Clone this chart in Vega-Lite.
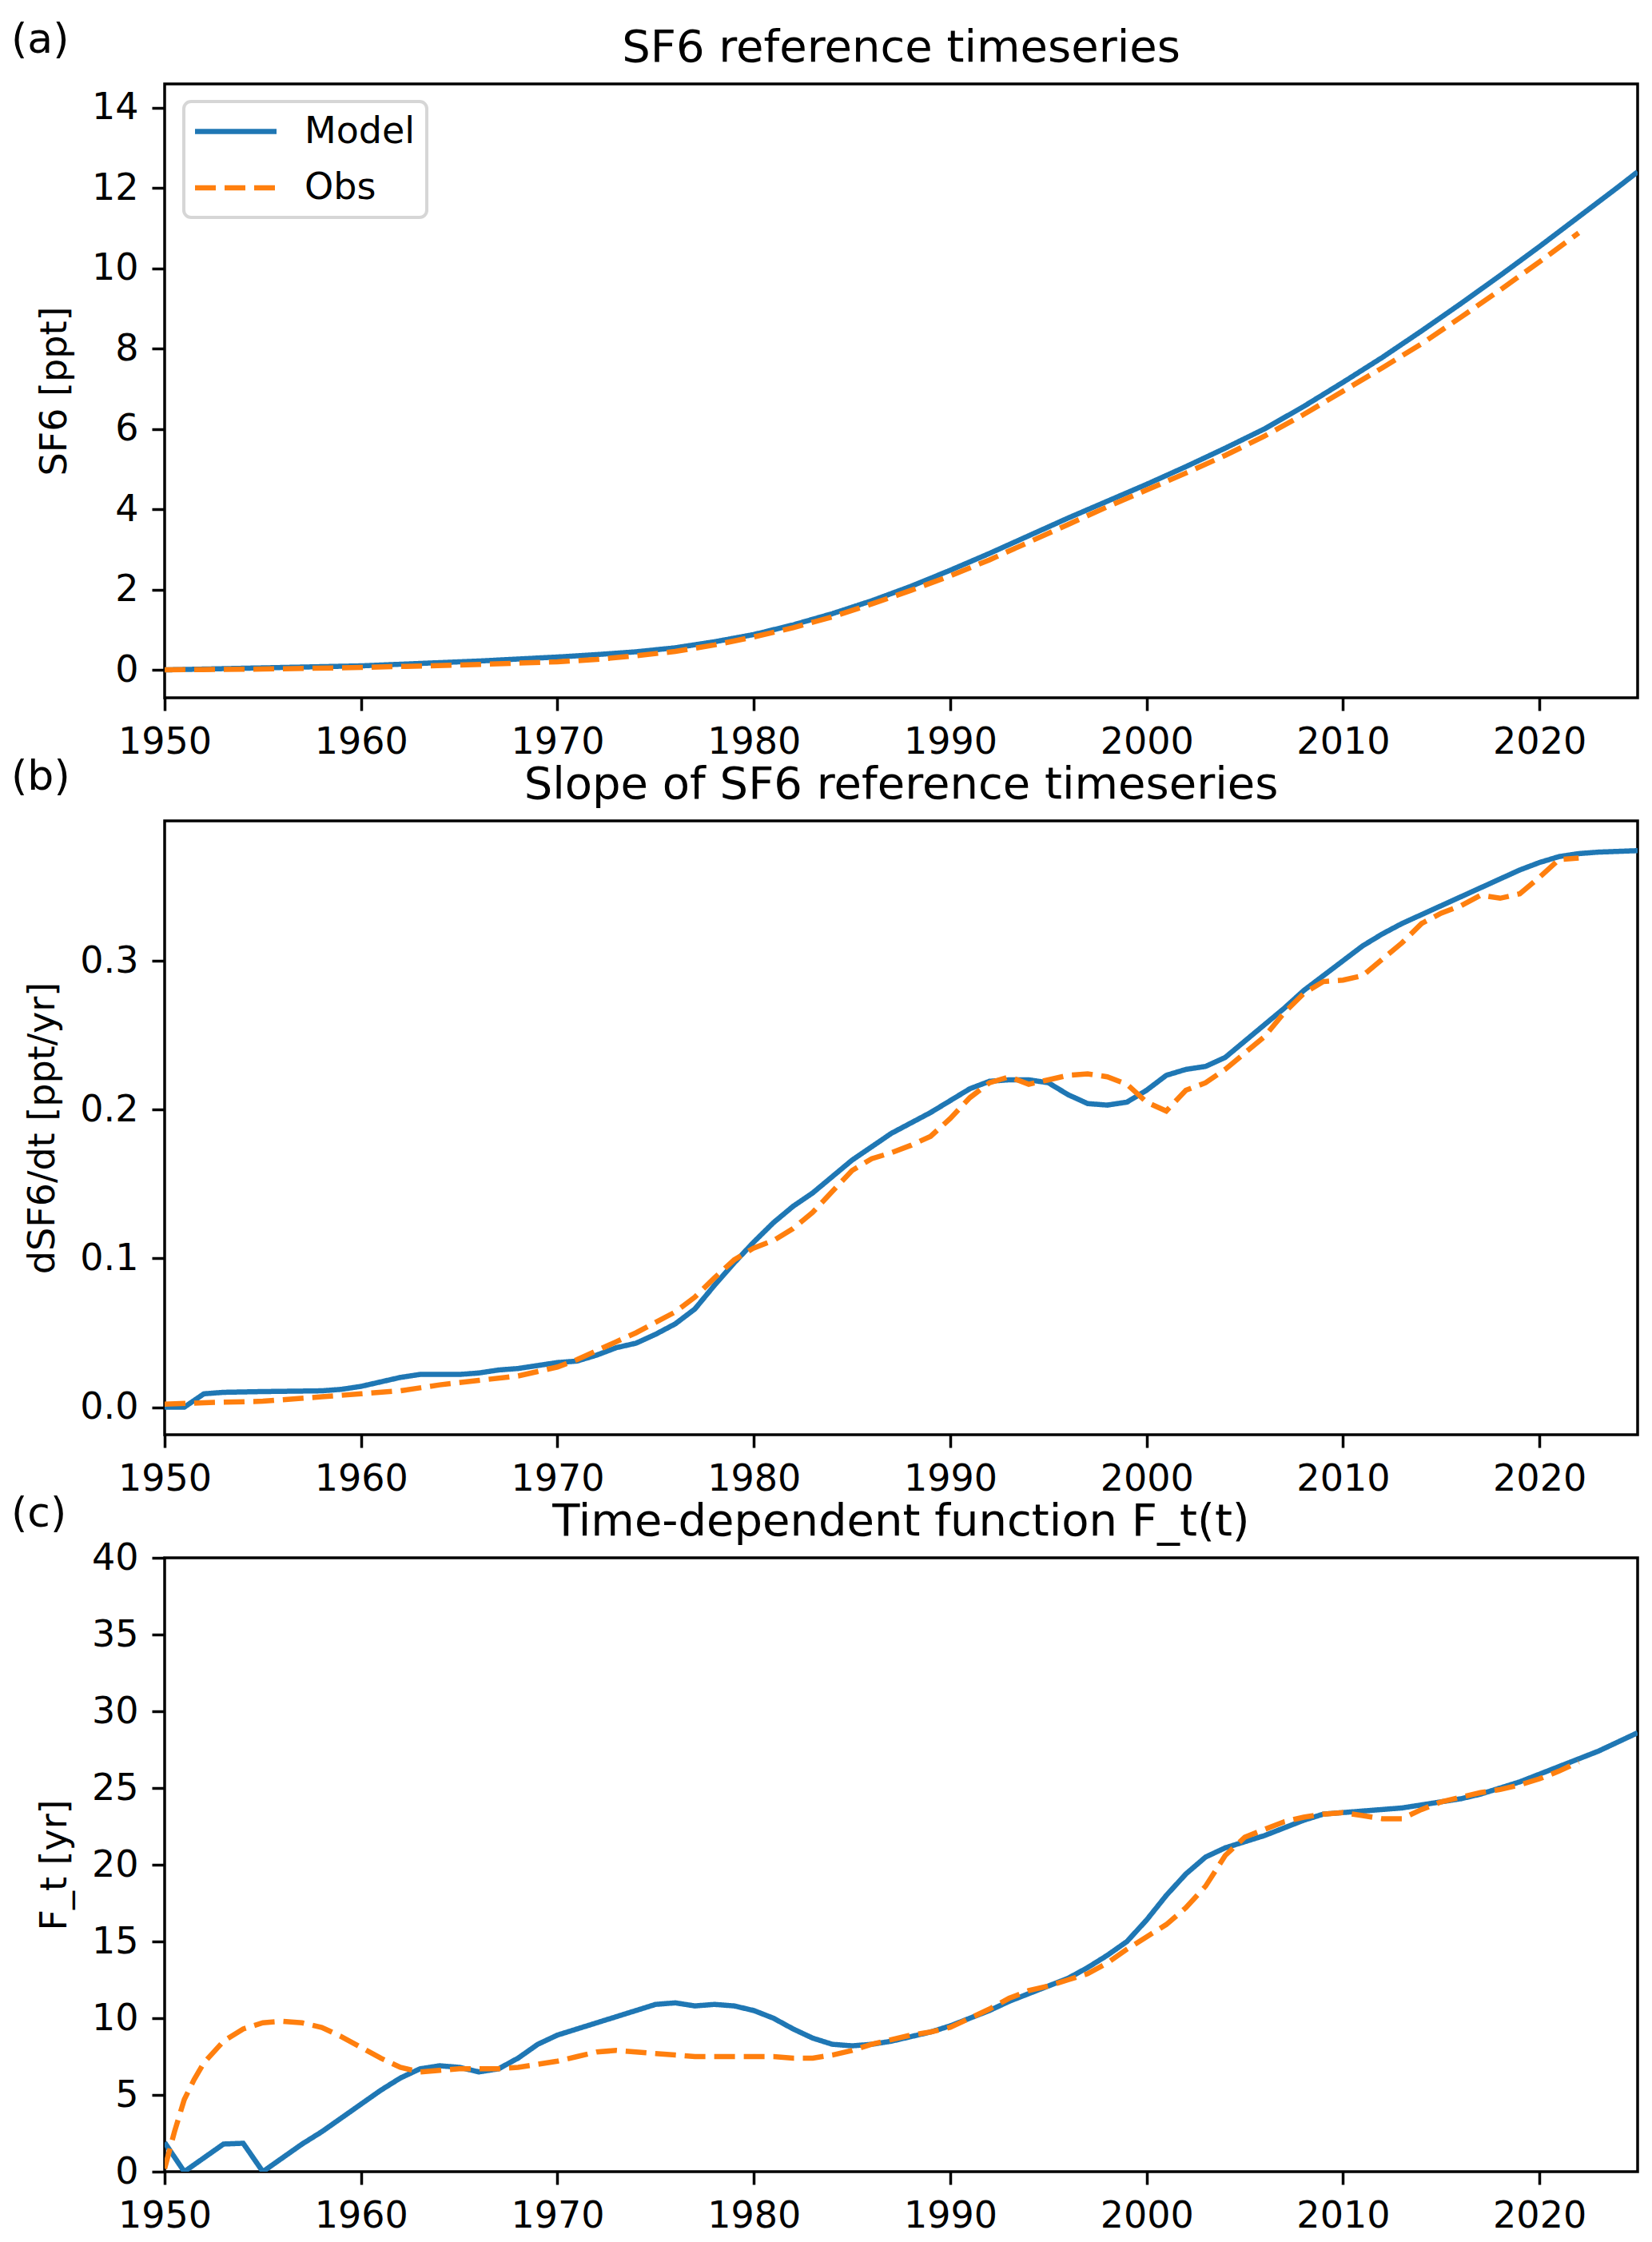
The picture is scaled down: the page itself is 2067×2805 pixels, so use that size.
{
"$schema": "https://vega.github.io/schema/vega-lite/v6.json",
"background": "white",
"padding": {"left": 12, "top": 22, "right": 5, "bottom": 5},
"config": {
 "font": "DejaVu Sans",
 "view": {"stroke": "black", "strokeWidth": 3.5},
 "axis": {"grid": false, "domain": false, "labelFont": "DejaVu Sans", "labelFontSize": 46, "labelColor": "black", "tickColor": "black", "tickSize": 16, "tickWidth": 3.5, "labelPadding": 17, "titleFont": "DejaVu Sans", "titleFontSize": 46, "titleFontWeight": "normal", "titleColor": "black", "titlePadding": 22, "labelFlush": false, "labelOverlap": false}
},
"datasets": {
 "sf6": [
  {"year":1950,"series":"Model","value":0.0},{"year":1952,"series":"Model","value":0.02},{"year":1954,"series":"Model","value":0.04},{"year":1956,"series":"Model","value":0.06},{"year":1958,"series":"Model","value":0.08},{"year":1960,"series":"Model","value":0.1},{"year":1962,"series":"Model","value":0.14},{"year":1964,"series":"Model","value":0.18},{"year":1966,"series":"Model","value":0.22},{"year":1968,"series":"Model","value":0.27},{"year":1970,"series":"Model","value":0.32},{"year":1972,"series":"Model","value":0.38},{"year":1974,"series":"Model","value":0.45},{"year":1976,"series":"Model","value":0.55},{"year":1978,"series":"Model","value":0.7},{"year":1980,"series":"Model","value":0.88},{"year":1982,"series":"Model","value":1.12},{"year":1984,"series":"Model","value":1.4},{"year":1986,"series":"Model","value":1.72},{"year":1988,"series":"Model","value":2.08},{"year":1990,"series":"Model","value":2.48},{"year":1992,"series":"Model","value":2.9},{"year":1994,"series":"Model","value":3.34},{"year":1996,"series":"Model","value":3.78},{"year":1998,"series":"Model","value":4.2},{"year":2000,"series":"Model","value":4.62},{"year":2002,"series":"Model","value":5.06},{"year":2004,"series":"Model","value":5.52},{"year":2006,"series":"Model","value":6.0},{"year":2008,"series":"Model","value":6.56},{"year":2010,"series":"Model","value":7.16},{"year":2012,"series":"Model","value":7.78},{"year":2014,"series":"Model","value":8.44},{"year":2016,"series":"Model","value":9.12},{"year":2018,"series":"Model","value":9.82},{"year":2020,"series":"Model","value":10.54},{"year":2022,"series":"Model","value":11.28},{"year":2024,"series":"Model","value":12.02},{"year":2025,"series":"Model","value":12.4},
  {"year":1950,"series":"Obs","value":0.0},{"year":1955,"series":"Obs","value":0.02},{"year":1960,"series":"Obs","value":0.06},{"year":1965,"series":"Obs","value":0.12},{"year":1970,"series":"Obs","value":0.2},{"year":1972,"series":"Obs","value":0.26},{"year":1974,"series":"Obs","value":0.35},{"year":1976,"series":"Obs","value":0.46},{"year":1978,"series":"Obs","value":0.62},{"year":1980,"series":"Obs","value":0.82},{"year":1982,"series":"Obs","value":1.05},{"year":1984,"series":"Obs","value":1.32},{"year":1986,"series":"Obs","value":1.64},{"year":1988,"series":"Obs","value":1.98},{"year":1990,"series":"Obs","value":2.34},{"year":1992,"series":"Obs","value":2.74},{"year":1994,"series":"Obs","value":3.18},{"year":1996,"series":"Obs","value":3.62},{"year":1998,"series":"Obs","value":4.06},{"year":2000,"series":"Obs","value":4.48},{"year":2002,"series":"Obs","value":4.9},{"year":2004,"series":"Obs","value":5.34},{"year":2006,"series":"Obs","value":5.82},{"year":2008,"series":"Obs","value":6.36},{"year":2010,"series":"Obs","value":6.94},{"year":2012,"series":"Obs","value":7.52},{"year":2014,"series":"Obs","value":8.12},{"year":2016,"series":"Obs","value":8.78},{"year":2018,"series":"Obs","value":9.46},{"year":2020,"series":"Obs","value":10.16},{"year":2022,"series":"Obs","value":10.88}
 ],
 "slope": [
  {"year":1950,"series":"Model","value":0.0},{"year":1951,"series":"Model","value":0.0},{"year":1952,"series":"Model","value":0.009},{"year":1953,"series":"Model","value":0.010},{"year":1955,"series":"Model","value":0.0105},{"year":1958,"series":"Model","value":0.011},{"year":1959,"series":"Model","value":0.012},{"year":1960,"series":"Model","value":0.014},{"year":1961,"series":"Model","value":0.017},{"year":1962,"series":"Model","value":0.020},{"year":1963,"series":"Model","value":0.022},{"year":1965,"series":"Model","value":0.022},{"year":1966,"series":"Model","value":0.023},{"year":1967,"series":"Model","value":0.025},{"year":1968,"series":"Model","value":0.026},{"year":1969,"series":"Model","value":0.028},{"year":1970,"series":"Model","value":0.030},{"year":1971,"series":"Model","value":0.031},{"year":1972,"series":"Model","value":0.035},{"year":1973,"series":"Model","value":0.040},{"year":1974,"series":"Model","value":0.043},{"year":1975,"series":"Model","value":0.049},{"year":1976,"series":"Model","value":0.056},{"year":1977,"series":"Model","value":0.066},{"year":1978,"series":"Model","value":0.082},{"year":1979,"series":"Model","value":0.097},{"year":1980,"series":"Model","value":0.111},{"year":1981,"series":"Model","value":0.124},{"year":1982,"series":"Model","value":0.135},{"year":1983,"series":"Model","value":0.144},{"year":1984,"series":"Model","value":0.155},{"year":1985,"series":"Model","value":0.166},{"year":1986,"series":"Model","value":0.175},{"year":1987,"series":"Model","value":0.184},{"year":1988,"series":"Model","value":0.191},{"year":1989,"series":"Model","value":0.198},{"year":1990,"series":"Model","value":0.206},{"year":1991,"series":"Model","value":0.214},{"year":1992,"series":"Model","value":0.219},{"year":1993,"series":"Model","value":0.220},{"year":1994,"series":"Model","value":0.220},{"year":1995,"series":"Model","value":0.218},{"year":1996,"series":"Model","value":0.210},{"year":1997,"series":"Model","value":0.204},{"year":1998,"series":"Model","value":0.203},{"year":1999,"series":"Model","value":0.205},{"year":2000,"series":"Model","value":0.213},{"year":2001,"series":"Model","value":0.223},{"year":2002,"series":"Model","value":0.227},{"year":2003,"series":"Model","value":0.229},{"year":2004,"series":"Model","value":0.235},{"year":2005,"series":"Model","value":0.246},{"year":2006,"series":"Model","value":0.257},{"year":2007,"series":"Model","value":0.268},{"year":2008,"series":"Model","value":0.280},{"year":2009,"series":"Model","value":0.290},{"year":2010,"series":"Model","value":0.300},{"year":2011,"series":"Model","value":0.310},{"year":2012,"series":"Model","value":0.318},{"year":2013,"series":"Model","value":0.325},{"year":2014,"series":"Model","value":0.331},{"year":2015,"series":"Model","value":0.337},{"year":2016,"series":"Model","value":0.343},{"year":2017,"series":"Model","value":0.349},{"year":2018,"series":"Model","value":0.355},{"year":2019,"series":"Model","value":0.361},{"year":2020,"series":"Model","value":0.366},{"year":2021,"series":"Model","value":0.370},{"year":2022,"series":"Model","value":0.372},{"year":2023,"series":"Model","value":0.373},{"year":2025,"series":"Model","value":0.374},
  {"year":1950,"series":"Obs","value":0.002},{"year":1952,"series":"Obs","value":0.003},{"year":1955,"series":"Obs","value":0.004},{"year":1958,"series":"Obs","value":0.007},{"year":1960,"series":"Obs","value":0.009},{"year":1962,"series":"Obs","value":0.011},{"year":1964,"series":"Obs","value":0.015},{"year":1966,"series":"Obs","value":0.018},{"year":1968,"series":"Obs","value":0.021},{"year":1970,"series":"Obs","value":0.027},{"year":1971,"series":"Obs","value":0.032},{"year":1972,"series":"Obs","value":0.038},{"year":1973,"series":"Obs","value":0.044},{"year":1974,"series":"Obs","value":0.050},{"year":1975,"series":"Obs","value":0.057},{"year":1976,"series":"Obs","value":0.064},{"year":1977,"series":"Obs","value":0.074},{"year":1978,"series":"Obs","value":0.087},{"year":1979,"series":"Obs","value":0.099},{"year":1980,"series":"Obs","value":0.107},{"year":1981,"series":"Obs","value":0.112},{"year":1982,"series":"Obs","value":0.120},{"year":1983,"series":"Obs","value":0.131},{"year":1984,"series":"Obs","value":0.145},{"year":1985,"series":"Obs","value":0.159},{"year":1986,"series":"Obs","value":0.167},{"year":1987,"series":"Obs","value":0.171},{"year":1988,"series":"Obs","value":0.176},{"year":1989,"series":"Obs","value":0.182},{"year":1990,"series":"Obs","value":0.194},{"year":1991,"series":"Obs","value":0.208},{"year":1992,"series":"Obs","value":0.218},{"year":1993,"series":"Obs","value":0.222},{"year":1994,"series":"Obs","value":0.217},{"year":1995,"series":"Obs","value":0.220},{"year":1996,"series":"Obs","value":0.223},{"year":1997,"series":"Obs","value":0.224},{"year":1998,"series":"Obs","value":0.222},{"year":1999,"series":"Obs","value":0.217},{"year":2000,"series":"Obs","value":0.205},{"year":2001,"series":"Obs","value":0.199},{"year":2002,"series":"Obs","value":0.213},{"year":2003,"series":"Obs","value":0.218},{"year":2004,"series":"Obs","value":0.227},{"year":2005,"series":"Obs","value":0.238},{"year":2006,"series":"Obs","value":0.249},{"year":2007,"series":"Obs","value":0.265},{"year":2008,"series":"Obs","value":0.278},{"year":2009,"series":"Obs","value":0.286},{"year":2010,"series":"Obs","value":0.287},{"year":2011,"series":"Obs","value":0.290},{"year":2012,"series":"Obs","value":0.301},{"year":2013,"series":"Obs","value":0.312},{"year":2014,"series":"Obs","value":0.325},{"year":2015,"series":"Obs","value":0.332},{"year":2016,"series":"Obs","value":0.337},{"year":2017,"series":"Obs","value":0.344},{"year":2018,"series":"Obs","value":0.342},{"year":2019,"series":"Obs","value":0.345},{"year":2020,"series":"Obs","value":0.356},{"year":2021,"series":"Obs","value":0.368},{"year":2022,"series":"Obs","value":0.369}
 ],
 "ft": [
  {"year":1950,"series":"Model","value":1.9},{"year":1951,"series":"Model","value":0.0},{"year":1953,"series":"Model","value":1.8},{"year":1954,"series":"Model","value":1.85},{"year":1955,"series":"Model","value":0.0},{"year":1956,"series":"Model","value":0.9},{"year":1957,"series":"Model","value":1.8},{"year":1958,"series":"Model","value":2.6},{"year":1959,"series":"Model","value":3.5},{"year":1960,"series":"Model","value":4.4},{"year":1961,"series":"Model","value":5.3},{"year":1962,"series":"Model","value":6.1},{"year":1963,"series":"Model","value":6.7},{"year":1964,"series":"Model","value":6.9},{"year":1965,"series":"Model","value":6.8},{"year":1966,"series":"Model","value":6.5},{"year":1967,"series":"Model","value":6.7},{"year":1968,"series":"Model","value":7.4},{"year":1969,"series":"Model","value":8.3},{"year":1970,"series":"Model","value":8.9},{"year":1971,"series":"Model","value":9.3},{"year":1972,"series":"Model","value":9.7},{"year":1973,"series":"Model","value":10.1},{"year":1974,"series":"Model","value":10.5},{"year":1975,"series":"Model","value":10.9},{"year":1976,"series":"Model","value":11.0},{"year":1977,"series":"Model","value":10.8},{"year":1978,"series":"Model","value":10.9},{"year":1979,"series":"Model","value":10.8},{"year":1980,"series":"Model","value":10.5},{"year":1981,"series":"Model","value":10.0},{"year":1982,"series":"Model","value":9.3},{"year":1983,"series":"Model","value":8.7},{"year":1984,"series":"Model","value":8.3},{"year":1985,"series":"Model","value":8.2},{"year":1986,"series":"Model","value":8.3},{"year":1987,"series":"Model","value":8.5},{"year":1988,"series":"Model","value":8.8},{"year":1989,"series":"Model","value":9.1},{"year":1990,"series":"Model","value":9.5},{"year":1991,"series":"Model","value":10.0},{"year":1992,"series":"Model","value":10.5},{"year":1993,"series":"Model","value":11.1},{"year":1994,"series":"Model","value":11.6},{"year":1995,"series":"Model","value":12.1},{"year":1996,"series":"Model","value":12.6},{"year":1997,"series":"Model","value":13.3},{"year":1998,"series":"Model","value":14.1},{"year":1999,"series":"Model","value":15.0},{"year":2000,"series":"Model","value":16.4},{"year":2001,"series":"Model","value":18.0},{"year":2002,"series":"Model","value":19.4},{"year":2003,"series":"Model","value":20.5},{"year":2004,"series":"Model","value":21.1},{"year":2005,"series":"Model","value":21.5},{"year":2006,"series":"Model","value":21.9},{"year":2007,"series":"Model","value":22.4},{"year":2008,"series":"Model","value":22.9},{"year":2009,"series":"Model","value":23.3},{"year":2010,"series":"Model","value":23.4},{"year":2011,"series":"Model","value":23.5},{"year":2012,"series":"Model","value":23.6},{"year":2013,"series":"Model","value":23.7},{"year":2014,"series":"Model","value":23.9},{"year":2015,"series":"Model","value":24.1},{"year":2016,"series":"Model","value":24.3},{"year":2017,"series":"Model","value":24.6},{"year":2018,"series":"Model","value":25.0},{"year":2019,"series":"Model","value":25.4},{"year":2020,"series":"Model","value":25.9},{"year":2021,"series":"Model","value":26.4},{"year":2022,"series":"Model","value":26.9},{"year":2023,"series":"Model","value":27.4},{"year":2024,"series":"Model","value":28.0},{"year":2025,"series":"Model","value":28.6},
  {"year":1950,"series":"Obs","value":0.2},{"year":1950.5,"series":"Obs","value":2.6},{"year":1951,"series":"Obs","value":4.7},{"year":1951.5,"series":"Obs","value":6.0},{"year":1952,"series":"Obs","value":7.1},{"year":1953,"series":"Obs","value":8.5},{"year":1954,"series":"Obs","value":9.3},{"year":1955,"series":"Obs","value":9.7},{"year":1956,"series":"Obs","value":9.8},{"year":1957,"series":"Obs","value":9.7},{"year":1958,"series":"Obs","value":9.4},{"year":1959,"series":"Obs","value":8.8},{"year":1960,"series":"Obs","value":8.1},{"year":1961,"series":"Obs","value":7.4},{"year":1962,"series":"Obs","value":6.8},{"year":1963,"series":"Obs","value":6.5},{"year":1964,"series":"Obs","value":6.6},{"year":1965,"series":"Obs","value":6.7},{"year":1966,"series":"Obs","value":6.7},{"year":1967,"series":"Obs","value":6.7},{"year":1968,"series":"Obs","value":6.8},{"year":1969,"series":"Obs","value":7.0},{"year":1970,"series":"Obs","value":7.2},{"year":1971,"series":"Obs","value":7.5},{"year":1972,"series":"Obs","value":7.8},{"year":1973,"series":"Obs","value":7.9},{"year":1974,"series":"Obs","value":7.8},{"year":1975,"series":"Obs","value":7.7},{"year":1976,"series":"Obs","value":7.6},{"year":1977,"series":"Obs","value":7.5},{"year":1978,"series":"Obs","value":7.5},{"year":1979,"series":"Obs","value":7.5},{"year":1980,"series":"Obs","value":7.5},{"year":1981,"series":"Obs","value":7.5},{"year":1982,"series":"Obs","value":7.4},{"year":1983,"series":"Obs","value":7.4},{"year":1984,"series":"Obs","value":7.6},{"year":1985,"series":"Obs","value":7.9},{"year":1986,"series":"Obs","value":8.3},{"year":1987,"series":"Obs","value":8.6},{"year":1988,"series":"Obs","value":8.9},{"year":1989,"series":"Obs","value":9.1},{"year":1990,"series":"Obs","value":9.4},{"year":1991,"series":"Obs","value":10.0},{"year":1992,"series":"Obs","value":10.6},{"year":1993,"series":"Obs","value":11.3},{"year":1994,"series":"Obs","value":11.8},{"year":1995,"series":"Obs","value":12.1},{"year":1996,"series":"Obs","value":12.5},{"year":1997,"series":"Obs","value":12.9},{"year":1998,"series":"Obs","value":13.6},{"year":1999,"series":"Obs","value":14.5},{"year":2000,"series":"Obs","value":15.3},{"year":2001,"series":"Obs","value":16.1},{"year":2002,"series":"Obs","value":17.2},{"year":2003,"series":"Obs","value":18.6},{"year":2004,"series":"Obs","value":20.6},{"year":2005,"series":"Obs","value":21.8},{"year":2006,"series":"Obs","value":22.3},{"year":2007,"series":"Obs","value":22.8},{"year":2008,"series":"Obs","value":23.1},{"year":2009,"series":"Obs","value":23.3},{"year":2010,"series":"Obs","value":23.4},{"year":2011,"series":"Obs","value":23.2},{"year":2012,"series":"Obs","value":23.0},{"year":2013,"series":"Obs","value":23.0},{"year":2014,"series":"Obs","value":23.6},{"year":2015,"series":"Obs","value":24.1},{"year":2016,"series":"Obs","value":24.4},{"year":2017,"series":"Obs","value":24.7},{"year":2018,"series":"Obs","value":24.9},{"year":2019,"series":"Obs","value":25.2},{"year":2020,"series":"Obs","value":25.6},{"year":2021,"series":"Obs","value":26.1},{"year":2022,"series":"Obs","value":26.7}
 ]
},
"spacing": 154,
"bounds": "flush",
"resolve": {"scale": {"y": "independent", "color": "independent", "strokeDash": "independent"}},
"vconcat": [
 {
  "width": 1843, "height": 768,
  "layer": [
   {"data": {"name": "sf6"},
    "mark": {"type": "line", "strokeWidth": 6.5, "clip": true},
    "encoding": {
     "x": {"field": "year", "type": "quantitative", "scale": {"domain": [1950, 2025], "nice": false, "zero": false}, "axis": {"values": [1950,1960,1970,1980,1990,2000,2010,2020], "format": "d", "title": null}},
     "y": {"field": "value", "type": "quantitative", "scale": {"domain": [-0.695, 14.59], "nice": false, "zero": false}, "axis": {"values": [0,2,4,6,8,10,12,14], "title": "SF6 [ppt]"}},
     "color": {"field": "series", "type": "nominal", "scale": {"domain": ["Model","Obs"], "range": ["#1f77b4","#ff7f0e"]},
       "legend": {"title": null, "orient": "none", "legendX": 24, "legendY": 22, "symbolType": "M-1.175,0H3.925", "symbolSize": 1600, "symbolStrokeWidth": 6.5, "labelFontSize": 46, "labelFont": "DejaVu Sans", "labelColor": "black", "labelOffset": 90, "rowPadding": 23.5, "padding": 14, "fillColor": "rgba(255,255,255,0.8)", "strokeColor": "rgba(204,204,204,0.8)", "cornerRadius": 9, "encode": {"legend": {"update": {"strokeWidth": {"value": 4}}}}}},
     "strokeDash": {"field": "series", "type": "nominal", "scale": {"domain": ["Model","Obs"], "range": [[1,0],[26,11]]},
       "legend": {"title": null, "orient": "none", "legendX": 24, "legendY": 22, "symbolType": "M-1.175,0H3.925", "symbolSize": 1600, "symbolStrokeWidth": 6.5, "labelFontSize": 46, "labelFont": "DejaVu Sans", "labelColor": "black", "labelOffset": 90, "rowPadding": 23.5, "padding": 14, "fillColor": "rgba(255,255,255,0.8)", "strokeColor": "rgba(204,204,204,0.8)", "cornerRadius": 9, "encode": {"legend": {"update": {"strokeWidth": {"value": 4}}}}}}
    }},
   {"data": {"values": [{"panel": "(a)"}]},
    "mark": {"type": "text", "align": "left", "baseline": "alphabetic", "fontSize": 52, "font": "DejaVu Sans", "color": "black"},
    "encoding": {"x": {"datum": 1942.19}, "y": {"datum": 15.37}, "text": {"field": "panel"}}},
   {"data": {"values": [{"title": "SF6 reference timeseries"}]},
    "mark": {"type": "text", "align": "center", "baseline": "alphabetic", "fontSize": 56, "font": "DejaVu Sans", "color": "black"},
    "encoding": {"x": {"datum": 1987.5}, "y": {"datum": 15.147}, "text": {"field": "title"}}}
  ]
 },
 {
  "width": 1843, "height": 768,
  "layer": [
   {"data": {"name": "slope"},
    "mark": {"type": "line", "strokeWidth": 6.5, "clip": true},
    "encoding": {
     "x": {"field": "year", "type": "quantitative", "scale": {"domain": [1950, 2025], "nice": false, "zero": false}, "axis": {"values": [1950,1960,1970,1980,1990,2000,2010,2020], "format": "d", "title": null}},
     "y": {"field": "value", "type": "quantitative", "scale": {"domain": [-0.0185, 0.394], "nice": false, "zero": false}, "axis": {"values": [0,0.1,0.2,0.3], "format": ".1f", "title": "dSF6/dt [ppt/yr]"}},
     "color": {"field": "series", "type": "nominal", "scale": {"domain": ["Model","Obs"], "range": ["#1f77b4","#ff7f0e"]}, "legend": null},
     "strokeDash": {"field": "series", "type": "nominal", "scale": {"domain": ["Model","Obs"], "range": [[1,0],[26,11]]}, "legend": null}
    }},
   {"data": {"values": [{"panel": "(b)"}]},
    "mark": {"type": "text", "align": "left", "baseline": "alphabetic", "fontSize": 52, "font": "DejaVu Sans", "color": "black"},
    "encoding": {"x": {"datum": 1942.19}, "y": {"datum": 0.415}, "text": {"field": "panel"}}},
   {"data": {"values": [{"title": "Slope of SF6 reference timeseries"}]},
    "mark": {"type": "text", "align": "center", "baseline": "alphabetic", "fontSize": 56, "font": "DejaVu Sans", "color": "black"},
    "encoding": {"x": {"datum": 1987.5}, "y": {"datum": 0.409}, "text": {"field": "title"}}}
  ]
 },
 {
  "width": 1843, "height": 768,
  "layer": [
   {"data": {"name": "ft"},
    "mark": {"type": "line", "strokeWidth": 6.5, "clip": true},
    "encoding": {
     "x": {"field": "year", "type": "quantitative", "scale": {"domain": [1950, 2025], "nice": false, "zero": false}, "axis": {"values": [1950,1960,1970,1980,1990,2000,2010,2020], "format": "d", "title": null}},
     "y": {"field": "value", "type": "quantitative", "scale": {"domain": [0, 40], "nice": false, "zero": false}, "axis": {"values": [0,5,10,15,20,25,30,35,40], "title": "F_t [yr]"}},
     "color": {"field": "series", "type": "nominal", "scale": {"domain": ["Model","Obs"], "range": ["#1f77b4","#ff7f0e"]}, "legend": null},
     "strokeDash": {"field": "series", "type": "nominal", "scale": {"domain": ["Model","Obs"], "range": [[1,0],[26,11]]}, "legend": null}
    }},
   {"data": {"values": [{"panel": "(c)"}]},
    "mark": {"type": "text", "align": "left", "baseline": "alphabetic", "fontSize": 52, "font": "DejaVu Sans", "color": "black"},
    "encoding": {"x": {"datum": 1942.19}, "y": {"datum": 42.03}, "text": {"field": "panel"}}},
   {"data": {"values": [{"title": "Time-dependent function F_t(t)"}]},
    "mark": {"type": "text", "align": "center", "baseline": "alphabetic", "fontSize": 56, "font": "DejaVu Sans", "color": "black"},
    "encoding": {"x": {"datum": 1987.5}, "y": {"datum": 41.46}, "text": {"field": "title"}}}
  ]
 }
]
}
